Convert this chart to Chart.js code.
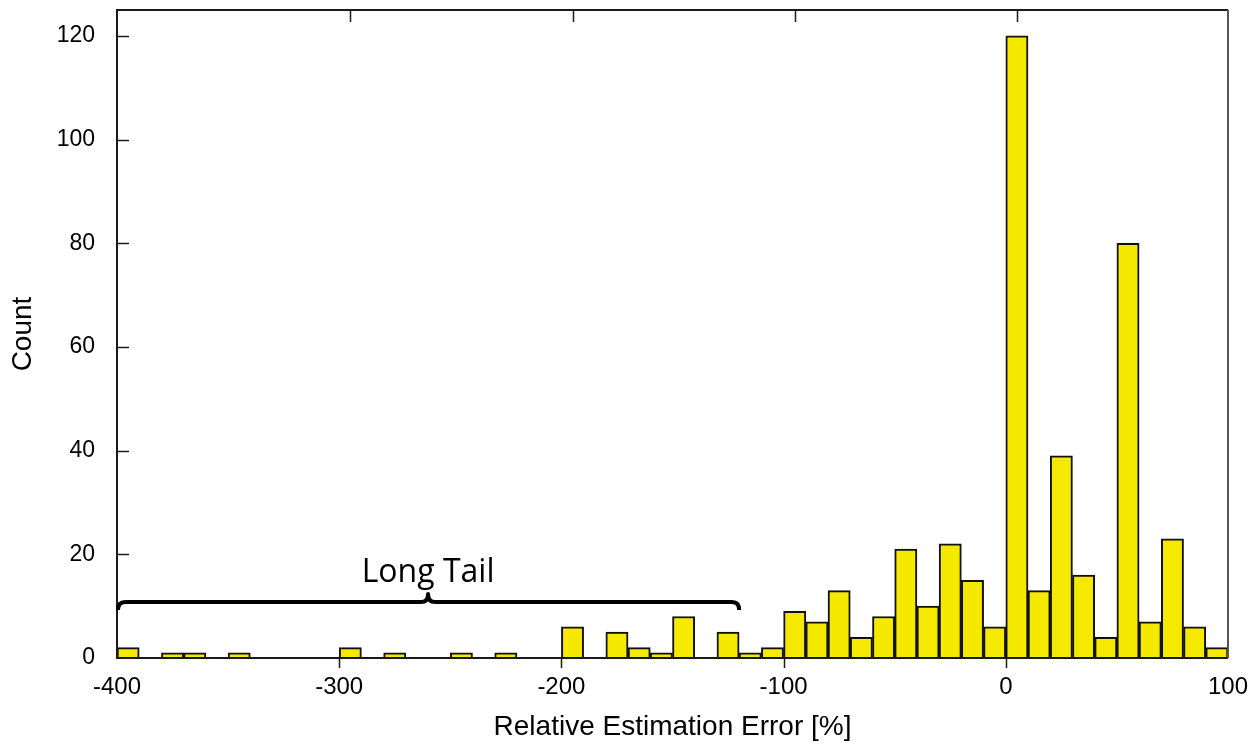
<!DOCTYPE html>
<html>
<head>
<meta charset="utf-8">
<script src="https://cdn.jsdelivr.net/npm/chart.js@4/dist/chart.umd.min.js"></script>
<style>
  html, body { margin: 0; padding: 0; background: #fff; }
  #wrap { width: 1251px; height: 744px; }
</style>
</head>
<body>
<div id="wrap"><canvas id="histChart" width="1251" height="744"></canvas></div>
<script>
// ===== DATOS =====
// inicio de cada bin (ancho 10 %)
const binStarts = [
  -400, -390, -380, -370, -360, -350, -340, -330, -320, -310,
  -300, -290, -280, -270, -260, -250, -240, -230, -220, -210,
  -200, -190, -180, -170, -160, -150, -140, -130, -120, -110,
  -100, -90, -80, -70, -60, -50, -40, -30, -20, -10,
  0, 10, 20, 30, 40, 50, 60, 70, 80, 90
];
const binWidth = 10;
const counts = [
  2, 0, 1, 1, 0, 1, 0, 0, 0, 0,
  2, 0, 1, 0, 0, 1, 0, 1, 0, 0,
  6, 0, 5, 2, 1, 8, 0, 5, 1, 2,
  9, 7, 13, 4, 8, 21, 10, 22, 15, 6,
  120, 13, 39, 16, 4, 80, 7, 23, 6, 2
];
const xTickValues = [-400, -300, -200, -100, 0, 100];
const xTopTickValues = [-295, -195, -95, 5];
const yTickValues = [0, 20, 40, 60, 80, 100, 120];
const xTitle = 'Relative Estimation Error [%]';
const yTitle = 'Count';

// anotación "Long Tail"
const tailFrom = -400;
const tailTo = -120;
const tailLevel = 10.8;
const tailLabel = 'Long Tail';

// ===== PLUGIN: marco, ticks y llave =====
const frameAndBrace = {
  id: 'frameAndBrace',
  afterDatasetsDraw: function(chart) {
    const ctx = chart.ctx;
    const area = chart.chartArea;
    const xs = chart.scales.x;
    const ys = chart.scales.y;

    ctx.save();
    ctx.lineCap = 'butt';

    // marco
    ctx.strokeStyle = '#1a1a1a';
    ctx.lineWidth = 2;
    ctx.beginPath();
    ctx.moveTo(area.right, area.top);
    ctx.lineTo(area.left, area.top);
    ctx.lineTo(area.left, area.bottom);
    ctx.lineTo(area.right, area.bottom);
    ctx.stroke();
    ctx.strokeStyle = '#555';
    ctx.beginPath();
    ctx.moveTo(area.right, area.top);
    ctx.lineTo(area.right, area.bottom);
    ctx.stroke();

    // ticks izquierda (hacia dentro)
    ctx.strokeStyle = '#1a1a1a';
    ctx.lineWidth = 1.5;
    yTickValues.forEach(function(v) {
      if (v === 0) return;
      const py = Math.round(ys.getPixelForValue(v)) + 0.5;
      ctx.beginPath();
      ctx.moveTo(area.left, py);
      ctx.lineTo(area.left + 12, py);
      ctx.stroke();
    });

    // ticks abajo (hacia fuera)
    xTickValues.forEach(function(v) {
      if (v === xTickValues[0] || v === xTickValues[xTickValues.length - 1]) return;
      const px = Math.round(xs.getPixelForValue(v)) + 0.5;
      ctx.beginPath();
      ctx.moveTo(px, area.bottom);
      ctx.lineTo(px, area.bottom + 10);
      ctx.stroke();
    });

    // ticks arriba (hacia dentro)
    xTopTickValues.forEach(function(v) {
      const px = Math.round(xs.getPixelForValue(v)) + 0.5;
      ctx.beginPath();
      ctx.moveTo(px, area.top);
      ctx.lineTo(px, area.top + 12);
      ctx.stroke();
    });

    // llave
    const x0 = xs.getPixelForValue(tailFrom);
    const x1 = xs.getPixelForValue(tailTo);
    const xm = (x0 + x1) / 2;
    const yl = ys.getPixelForValue(tailLevel);
    const r = 7;
    ctx.strokeStyle = '#000';
    ctx.lineWidth = 4;
    ctx.lineJoin = 'round';
    ctx.beginPath();
    ctx.moveTo(x0 + 1, yl + 8);
    ctx.quadraticCurveTo(x0 + 1, yl, x0 + 1 + r, yl);
    ctx.lineTo(xm - r, yl);
    ctx.quadraticCurveTo(xm, yl, xm, yl - 8);
    ctx.quadraticCurveTo(xm, yl, xm + r, yl);
    ctx.lineTo(x1 - r, yl);
    ctx.quadraticCurveTo(x1, yl, x1, yl + 8);
    ctx.stroke();

    ctx.fillStyle = '#000';
    ctx.font = '32px "Open Sans", sans-serif';
    ctx.textAlign = 'center';
    ctx.textBaseline = 'alphabetic';
    ctx.fillText(tailLabel, xm, yl - 20);

    ctx.restore();
  }
};

// ===== GRÁFICO =====
const chartData = binStarts.map(function(start, i) {
  return { x: start + binWidth / 2, y: counts[i] };
});

new Chart(document.getElementById('histChart'), {
  type: 'bar',
  data: {
    datasets: [{
      data: chartData,
      backgroundColor: '#f6e900',
      borderColor: '#111',
      borderWidth: 2,
      barPercentage: 1,
      categoryPercentage: 1,
    }],
  },
  options: {
    responsive: false,
    animation: false,
    events: [],
    layout: { padding: { top: 10, right: 23, left: 0, bottom: 0 } },
    plugins: { legend: { display: false }, tooltip: { enabled: false } },
    scales: {
      x: {
        type: 'linear',
        offset: false,
        min: -400,
        max: 100,
        grid: { display: false },
        border: { display: false },
        afterBuildTicks: function(scale) {
          scale.ticks = xTickValues.map(function(v) { return { value: v }; });
        },
        afterFit: function(scale) {
          scale.height = 86;
          scale.paddingLeft = 0;
          scale.paddingRight = 0;
        },
        ticks: {
          autoSkip: false,
          maxRotation: 0,
          padding: 7,
          color: '#000',
          font: { family: '"Liberation Sans", Arial, sans-serif', size: 24 },
        },
        title: {
          display: true,
          text: xTitle,
          color: '#000',
          padding: { top: 0, bottom: 0 },
          font: { family: '"Liberation Sans", Arial, sans-serif', size: 28 },
        },
      },
      y: {
        min: 0,
        max: 125,
        grid: { display: false },
        border: { display: false },
        afterBuildTicks: function(scale) {
          scale.ticks = yTickValues.map(function(v) { return { value: v }; });
        },
        afterFit: function(scale) {
          scale.width = 117;
          scale.paddingTop = 0;
          scale.paddingBottom = 0;
        },
        ticks: {
          padding: 14,
          color: '#000',
          font: { family: '"Liberation Sans", Arial, sans-serif', size: 23 },
        },
        title: {
          display: true,
          text: yTitle,
          color: '#000',
          padding: { top: 6, bottom: 0 },
          font: { family: '"Liberation Sans", Arial, sans-serif', size: 28 },
        },
      },
    },
  },
  plugins: [frameAndBrace],
});
</script>
</body>
</html>
